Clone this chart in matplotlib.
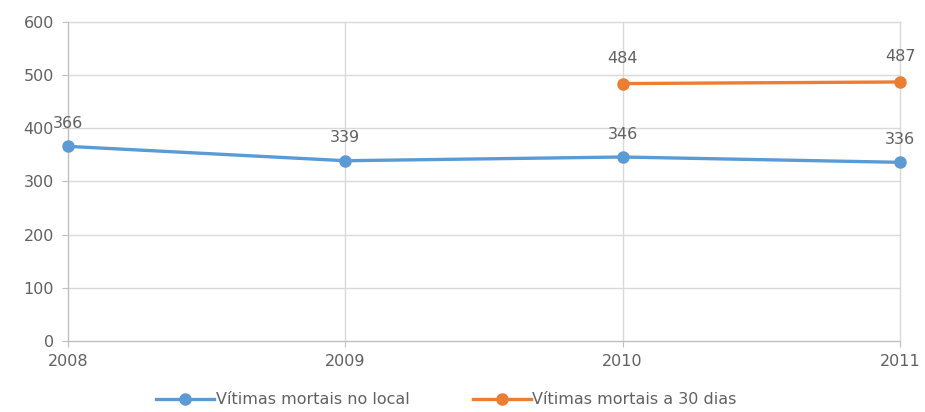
import matplotlib
matplotlib.use("Agg")
import matplotlib.pyplot as plt

years = ["2008", "2009", "2010", "2011"]
no_local = [366, 339, 346, 336]
a_30_dias_years = ["2010", "2011"]
a_30_dias = [484, 487]
y_ticks = [0, 100, 200, 300, 400, 500, 600]

blue = "#5B9BD5"
orange = "#ED7D31"
text_gray = "#616161"
grid_gray = "#D9D9D9"

plt.rcParams["font.family"] = ["DejaVu Sans"]

fig = plt.figure(figsize=(9.25, 4.12), dpi=100)
ax = fig.add_axes([0.0735, 0.172, 0.8995, 0.775])

x_all = list(range(len(years)))
x_30 = [years.index(y) for y in a_30_dias_years]

ax.plot(x_all, no_local, color=blue, lw=2.4, marker="o", ms=8,
        label="Vítimas mortais no local", zorder=3, clip_on=False)
ax.plot(x_30, a_30_dias, color=orange, lw=2.4, marker="o", ms=8,
        label="Vítimas mortais a 30 dias", zorder=3, clip_on=False)

for x, v in zip(x_all, no_local):
    ax.annotate(str(v), (x, v), xytext=(0, 11), textcoords="offset points",
                ha="center", va="bottom", fontsize=11.5, color=text_gray)
for x, v in zip(x_30, a_30_dias):
    ax.annotate(str(v), (x, v), xytext=(0, 13), textcoords="offset points",
                ha="center", va="bottom", fontsize=11.5, color=text_gray)

ax.set_xlim(0, len(years) - 1)
ax.set_ylim(0, 600)
ax.set_xticks(x_all)
ax.set_xticklabels(years)
ax.set_yticks(y_ticks)
ax.grid(True, color=grid_gray, lw=1)
for gl in ax.get_xgridlines() + ax.get_ygridlines():
    gl.set_clip_on(False)
ax.set_axisbelow(True)

for s in ["top", "right"]:
    ax.spines[s].set_visible(False)
ax.spines["left"].set_color("#BFBFBF")
ax.spines["bottom"].set_color("#BFBFBF")
ax.tick_params(axis="both", colors=text_gray, labelsize=11.5, length=4)
ax.tick_params(axis="y", color="#BFBFBF", pad=6)
ax.tick_params(axis="x", color="#BFBFBF", pad=5)

ax.legend(loc="upper center", bbox_to_anchor=(0.455, -0.115), ncol=2,
          frameon=False, fontsize=11.5, labelcolor=text_gray,
          handlelength=3.6, columnspacing=4.0, handletextpad=0.1)

fig.savefig("out.png", dpi=100)
